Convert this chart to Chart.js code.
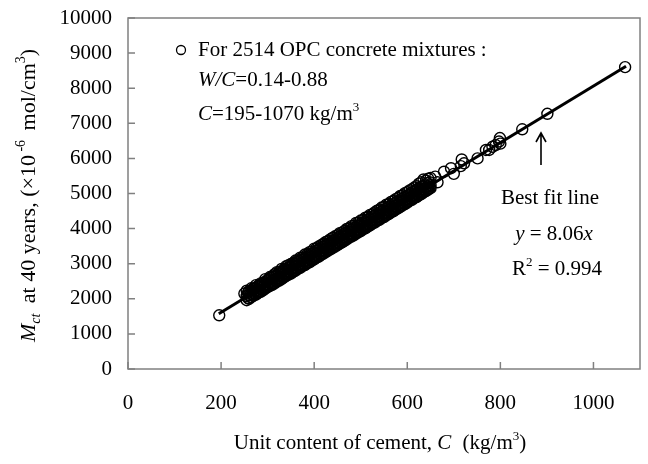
<!DOCTYPE html>
<html lang="en">
<head>
  <meta charset="UTF-8">
  <title>Mct at 40 years vs unit cement content</title>
  <script src="https://cdn.jsdelivr.net/npm/chart.js"></script>
  <style>
    body { margin: 0; background: #fff; }
    .chart-container { width: 648px; height: 464px; position: relative; }
  </style>
</head>
<body>
  <div class="chart-container">
    <canvas id="mctChart"></canvas>
  </div>

  <script>
    // dense band of mixtures: unit cement content (kg/m3) and Mct readings per column
    const bandC = [255, 260, 265, 270, 275, 280, 285, 290, 295, 300,
      305, 310, 315, 320, 325, 330, 335, 340, 345, 350,
      355, 360, 365, 370, 375, 380, 385, 390, 395, 400,
      405, 410, 415, 420, 425, 430, 435, 440, 445, 450,
      455, 460, 465, 470, 475, 480, 485, 490, 495, 500,
      505, 510, 515, 520, 525, 530, 535, 540, 545, 550,
      555, 560, 565, 570, 575, 580, 585, 590, 595, 600,
      605, 610, 615, 620, 625, 630, 635, 640, 645, 650];
    const bandUpper = [2230, 2220, 2300, 2290, 2390, 2370, 2440, 2450, 2560, 2540,
      2620, 2640, 2700, 2760, 2770, 2850, 2840, 2930, 2960, 2990,
      3020, 3090, 3100, 3170, 3180, 3260, 3270, 3330, 3350, 3430,
      3440, 3490, 3530, 3570, 3620, 3650, 3700, 3740, 3780, 3810,
      3870, 3890, 3930, 3990, 4010, 4070, 4080, 4160, 4170, 4230,
      4250, 4310, 4330, 4390, 4410, 4460, 4510, 4540, 4600, 4620,
      4680, 4700, 4760, 4790, 4840, 4870, 4930, 4950, 5010, 5040,
      5090, 5120, 5170, 5210, 5280, 5320, 5400, 5370, 5420, 5440];
    const bandMid = [2080, 2110, 2150, 2170, 2240, 2260, 2310, 2330, 2400, 2410,
      2470, 2510, 2550, 2570, 2640, 2670, 2710, 2750, 2790, 2830,
      2870, 2910, 2950, 2990, 3030, 3070, 3110, 3150, 3200, 3230,
      3280, 3310, 3360, 3390, 3440, 3470, 3520, 3550, 3600, 3630,
      3680, 3710, 3760, 3790, 3840, 3870, 3920, 3950, 4000, 4040,
      4080, 4120, 4160, 4200, 4240, 4280, 4320, 4360, 4400, 4440,
      4480, 4520, 4560, 4600, 4640, 4680, 4720, 4760, 4800, 4840,
      4880, 4920, 4960, 5000, 5040, 5080, 5120, 5160, 5200, 5240];
    const bandLower = [1960, 2000, 2050, 2090, 2120, 2170, 2200, 2240, 2290, 2330,
      2370, 2400, 2440, 2490, 2520, 2560, 2610, 2650, 2690, 2720,
      2770, 2800, 2850, 2880, 2930, 2960, 3010, 3040, 3090, 3120,
      3170, 3200, 3250, 3290, 3330, 3370, 3410, 3450, 3490, 3530,
      3570, 3610, 3650, 3690, 3740, 3770, 3810, 3860, 3890, 3930,
      3980, 4010, 4060, 4090, 4140, 4170, 4220, 4250, 4300, 4330,
      4380, 4410, 4460, 4490, 4540, 4580, 4620, 4660, 4700, 4740,
      4790, 4820, 4870, 4900, 4950, 4980, 5030, 5070, 5110, 5150];

    // second, staggered set of columns in the band
    const bandC2 = [258, 263, 268, 273, 278, 283, 288, 293, 298, 303,
      308, 313, 318, 323, 328, 333, 338, 343, 348, 353,
      358, 363, 368, 373, 378, 383, 388, 393, 398, 403,
      408, 413, 418, 423, 428, 433, 438, 443, 448, 453,
      458, 463, 468, 473, 478, 483, 488, 493, 498, 503,
      508, 513, 518, 523, 528, 533, 538, 543, 548, 553,
      558, 563, 568, 573, 578, 583, 588, 593, 598, 603,
      608, 613, 618, 623, 628, 633, 638, 643, 648];
    const bandUpper2 = [2180, 2230, 2270, 2300, 2350, 2390, 2420, 2470, 2500, 2560,
      2590, 2630, 2660, 2720, 2750, 2790, 2840, 2870, 2910, 2950,
      2990, 3040, 3080, 3110, 3160, 3190, 3240, 3280, 3310, 3360,
      3400, 3440, 3480, 3520, 3560, 3590, 3640, 3680, 3720, 3760,
      3800, 3840, 3880, 3920, 3960, 4000, 4040, 4080, 4120, 4160,
      4200, 4240, 4280, 4320, 4360, 4400, 4440, 4480, 4520, 4560,
      4610, 4640, 4690, 4720, 4770, 4800, 4850, 4880, 4930, 4960,
      5010, 5050, 5090, 5130, 5190, 5210, 5260, 5290, 5320];
    const bandLower2 = [2020, 2050, 2100, 2140, 2180, 2220, 2260, 2300, 2340, 2380,
      2420, 2460, 2500, 2540, 2580, 2620, 2660, 2700, 2740, 2780,
      2820, 2860, 2900, 2940, 2980, 3020, 3060, 3110, 3140, 3190,
      3220, 3270, 3300, 3350, 3380, 3430, 3460, 3510, 3540, 3590,
      3620, 3670, 3700, 3750, 3790, 3830, 3870, 3910, 3950, 3990,
      4030, 4070, 4110, 4150, 4190, 4230, 4270, 4310, 4350, 4390,
      4430, 4470, 4510, 4550, 4590, 4630, 4670, 4710, 4750, 4790,
      4830, 4870, 4910, 4950, 4990, 5030, 5070, 5110, 5150];

    // sparse mixtures outside the dense band
    const sparseC = [196, 250, 660, 665, 679, 694, 700, 715, 717, 722, 751, 769, 776, 783, 790, 797, 799, 800, 847, 901, 1068];
    const sparseM = [1530, 2150, 5480, 5320, 5620, 5720, 5560, 5780, 5970, 5860, 6000, 6240, 6240, 6330, 6380, 6480, 6580, 6420, 6830, 7270, 8600];

    // best fit line y = 8.06x over C = 195-1070
    const fitC = [195, 1070];
    const fitM = [1572, 8624];

    const xTicks = [0, 200, 400, 600, 800, 1000];

    const serif = "'Liberation Serif', 'Times New Roman', serif";

    const points = [];
    bandC.forEach((c, i) => {
      points.push({ x: c, y: bandUpper[i] });
      points.push({ x: c, y: bandMid[i] });
      points.push({ x: c, y: bandLower[i] });
    });
    bandC2.forEach((c, i) => {
      points.push({ x: c, y: bandUpper2[i] });
      points.push({ x: c, y: bandLower2[i] });
    });
    sparseC.forEach((c, i) => points.push({ x: c, y: sparseM[i] }));
    const fitLine = fitC.map((c, i) => ({ x: c, y: fitM[i] }));

    // text with italic / superscript / subscript pieces
    function runFont(r, size) {
      const s = (r.sup || r.sub) ? Math.round(size * 0.62) : size;
      return (r.i ? 'italic ' : '') + s + 'px ' + serif;
    }
    function drawRich(ctx, runs, x, y, size, align) {
      let total = 0;
      const widths = runs.map(r => {
        ctx.font = runFont(r, size);
        const w = ctx.measureText(r.t).width + (r.gap || 0);
        total += w;
        return w;
      });
      let cx = align === 'center' ? x - total / 2 : x;
      ctx.textAlign = 'left';
      ctx.textBaseline = 'alphabetic';
      runs.forEach((r, k) => {
        ctx.font = runFont(r, size);
        let dy = 0;
        if (r.sup) dy = -size * 0.45;
        if (r.sub) dy = size * 0.22;
        ctx.fillText(r.t, cx, y + dy);
        cx += widths[k];
      });
    }

    const decor = {
      id: 'decor',
      beforeDatasetsDraw(chart) {
        const { ctx, chartArea: a, scales } = chart;
        ctx.save();
        ctx.strokeStyle = '#808080';
        ctx.lineWidth = 1.5;
        ctx.strokeRect(a.left, a.top, a.right - a.left, a.bottom - a.top);
        ctx.beginPath();
        scales.x.ticks.forEach(t => {
          const px = scales.x.getPixelForValue(t.value);
          ctx.moveTo(px, a.bottom);
          ctx.lineTo(px, a.bottom - 7);
        });
        scales.y.ticks.forEach(t => {
          const py = scales.y.getPixelForValue(t.value);
          ctx.moveTo(a.left, py);
          ctx.lineTo(a.left + 7, py);
        });
        ctx.stroke();
        ctx.restore();
      },
      afterDraw(chart) {
        const { ctx, chartArea: a } = chart;
        ctx.save();
        ctx.fillStyle = '#000';

        // axis titles
        drawRich(ctx, [
          { t: 'Unit content of cement, ' },
          { t: 'C', i: true, gap: 6 },
          { t: ' (kg/m' },
          { t: '3', sup: true },
          { t: ')' }
        ], (a.left + a.right) / 2 - 4, 449, 21, 'center');

        ctx.save();
        ctx.translate(35, (a.top + a.bottom) / 2 + 2);
        ctx.rotate(-Math.PI / 2);
        drawRich(ctx, [
          { t: 'M', i: true },
          { t: 'ct', i: true, sub: true, gap: 5 },
          { t: ' at 40 years, (\u00d710' },
          { t: ' -6', sup: true, gap: 4 },
          { t: ' mol/cm' },
          { t: '3', sup: true },
          { t: ')' }
        ], 0, 0, 22, 'center');
        ctx.restore();

        // legend block
        ctx.strokeStyle = '#000';
        ctx.lineWidth = 1.3;
        ctx.beginPath();
        ctx.arc(181, 50, 4.5, 0, Math.PI * 2);
        ctx.stroke();
        drawRich(ctx, [{ t: 'For 2514 OPC concrete mixtures :' }], 198, 56, 21, 'left');
        drawRich(ctx, [{ t: 'W/C', i: true }, { t: '=0.14-0.88' }], 198, 86, 21, 'left');
        drawRich(ctx, [{ t: 'C', i: true }, { t: '=195-1070 kg/m' }, { t: '3', sup: true }], 198, 120, 21, 'left');

        // arrow to the fit line
        ctx.lineWidth = 1.6;
        ctx.beginPath();
        ctx.moveTo(541, 165);
        ctx.lineTo(541, 133);
        ctx.moveTo(536, 142);
        ctx.lineTo(541, 133);
        ctx.lineTo(546, 142);
        ctx.stroke();

        drawRich(ctx, [{ t: 'Best fit line' }], 550, 204, 21, 'center');
        drawRich(ctx, [{ t: 'y', i: true }, { t: ' = 8.06' }, { t: 'x', i: true }], 554, 240, 21, 'center');
        drawRich(ctx, [{ t: 'R' }, { t: '2', sup: true }, { t: ' = 0.994' }], 557, 275, 21, 'center');
        ctx.restore();
      }
    };

    const ctx = document.getElementById('mctChart').getContext('2d');
    new Chart(ctx, {
      type: 'scatter',
      data: {
        datasets: [
          {
            label: 'OPC mixtures',
            data: points,
            pointStyle: 'circle',
            pointRadius: 5.5,
            pointBorderWidth: 1.4,
            borderColor: '#000',
            backgroundColor: 'rgba(0,0,0,0)'
          },
          {
            label: 'Best fit',
            type: 'line',
            data: fitLine,
            borderColor: '#000',
            borderWidth: 3,
            pointRadius: 0,
            fill: false
          }
        ]
      },
      options: {
        responsive: true,
        maintainAspectRatio: false,
        animation: false,
        layout: { padding: { top: 18, right: 8, left: 0, bottom: 0 } },
        plugins: {
          legend: { display: false },
          tooltip: { enabled: false }
        },
        scales: {
          x: {
            type: 'linear',
            min: 0,
            max: 1100,
            afterBuildTicks: s => { s.ticks = xTicks.map(v => ({ value: v })); },
            afterFit: s => { s.height = 95; s.paddingLeft = 0; s.paddingRight = 0; },
            grid: { display: false, drawTicks: false },
            border: { display: false },
            ticks: { color: '#000', padding: 22, font: { family: serif, size: 21 }, callback: v => String(v) }
          },
          y: {
            min: 0,
            max: 10000,
            afterFit: s => { s.width = 128; s.paddingTop = 0; s.paddingBottom = 0; },
            grid: { display: false, drawTicks: false },
            border: { display: false },
            ticks: { stepSize: 1000, color: '#000', padding: 16, font: { family: serif, size: 21 }, callback: v => String(v) }
          }
        }
      },
      plugins: [decor]
    });
  </script>
</body>
</html>
